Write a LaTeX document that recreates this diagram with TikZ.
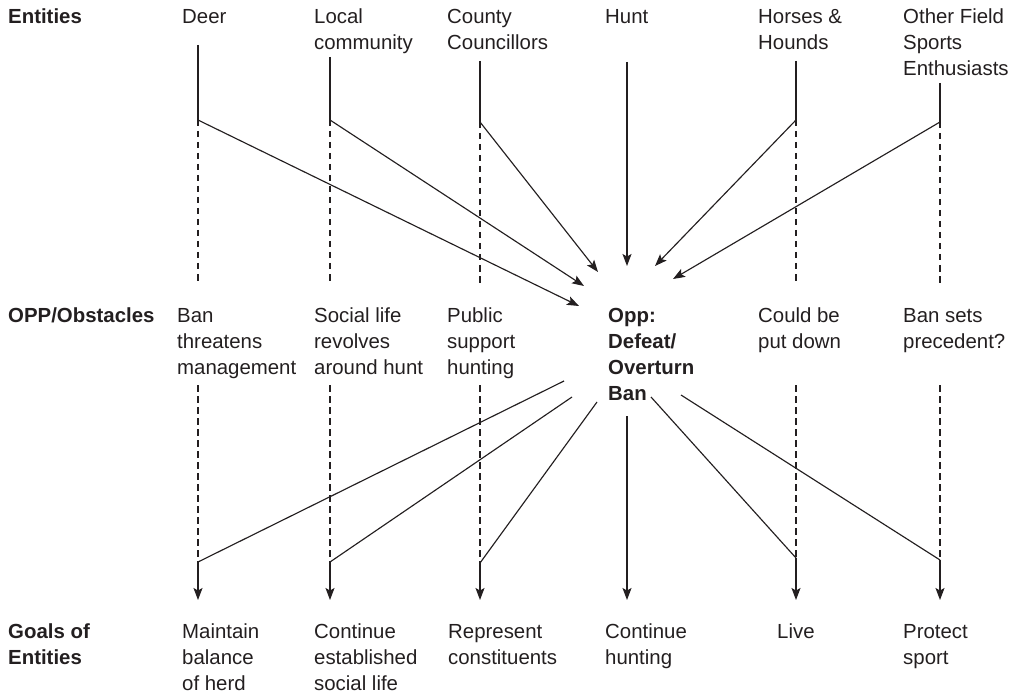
\documentclass[tikz,border=0pt]{standalone}
\usepackage{fontspec}
\setmainfont{Liberation Sans}
\usetikzlibrary{arrows.meta}
\definecolor{ink}{HTML}{231F20}
% stacked lines whose reference point is the first baseline
\newcommand\lns[1]{\begin{tabular}[t]{@{}l@{}}#1\end{tabular}}
\tikzset{
  lbl/.style={anchor=base west, inner sep=0pt, text=ink,
    font=\fontsize{20.4}{26}\selectfont},
  head/.style={lbl, font=\fontsize{20.4}{26}\selectfont\bfseries},
  link/.style={draw=ink, line width=1.15pt},
  flow/.style={link, -{Stealth[length=12pt,width=9pt,inset=2.5pt]}},
  guide/.style={draw=ink, line width=1.1pt, dash pattern=on 6.5pt off 4.5pt}
}
\begin{document}
\begin{tikzpicture}[x=1pt,y=-1pt]
\useasboundingbox (0,0) rectangle (1015,695);

% row headings
\node[head] (hEnt) at (8,24) {\lns{Entities}};
\node[head] (hObs) at (8,322) {\lns{OPP/Obstacles}};
\node[head] (hGoal) at (8,638) {\lns{Goals of\\Entities}};

% entities
\node[lbl] (e1) at (182,24) {\lns{Deer}};
\node[lbl] (e2) at (314,24) {\lns{Local\\community}};
\node[lbl] (e3) at (447,24) {\lns{County\\Councillors}};
\node[lbl] (e4) at (605,24) {\lns{Hunt}};
\node[lbl] (e5) at (758,24) {\lns{Horses \&\\Hounds}};
\node[lbl] (e6) at (903,24) {\lns{Other Field\\Sports\\Enthusiasts}};

% obstacles and the central opportunity
\node[lbl] (o1) at (177,322) {\lns{Ban\\threatens\\management}};
\node[lbl] (o2) at (314,322) {\lns{Social life\\revolves\\around hunt}};
\node[lbl] (o3) at (447,322) {\lns{Public\\support\\hunting}};
\node[head] (opp) at (608,322) {\lns{Opp:\\Defeat/\\Overturn\\Ban}};
\node[lbl] (o5) at (758,322) {\lns{Could be\\put down}};
\node[lbl] (o6) at (903,322) {\lns{Ban sets\\precedent?}};

% goals
\node[lbl] (g1) at (182,638) {\lns{Maintain\\balance\\of herd}};
\node[lbl] (g2) at (314,638) {\lns{Continue\\established\\social life}};
\node[lbl] (g3) at (448,638) {\lns{Represent\\constituents}};
\node[lbl] (g4) at (605,638) {\lns{Continue\\hunting}};
\node[lbl] (g5) at (777,638) {\lns{Live}};
\node[lbl] (g6) at (903,638) {\lns{Protect\\sport}};

% column stems: top, upper branch point, end of upper guide
\coordinate (t1) at (198,45);  \coordinate (u1) at (198,120); \coordinate (ud1) at (198,284);
\coordinate (t2) at (330,57);  \coordinate (u2) at (330,120); \coordinate (ud2) at (330,284);
\coordinate (t3) at (480,61);  \coordinate (u3) at (480,122); \coordinate (ud3) at (480,284);
\coordinate (t4) at (627,62);
\coordinate (t5) at (796,61);  \coordinate (u5) at (796,120); \coordinate (ud5) at (796,284);
\coordinate (t6) at (940,83);  \coordinate (u6) at (940,122); \coordinate (ud6) at (940,284);

% arrow ends around the opportunity
\coordinate (in1) at (579,306);
\coordinate (in2) at (584,286);
\coordinate (in3) at (598,272);
\coordinate (in4) at (627,266);
\coordinate (in5) at (655,266);
\coordinate (in6) at (673,279);

% lines leaving the opportunity
\coordinate (out1) at (564,381);
\coordinate (out2) at (572,397);
\coordinate (out3) at (597,402);
\coordinate (out4) at (627,416);
\coordinate (out5) at (651,397);
\coordinate (out6) at (681,395);

% lower guides: start, lower branch point, arrow tip
\coordinate (ld1) at (198,385); \coordinate (l1) at (198,562); \coordinate (a1) at (198,600);
\coordinate (ld2) at (330,385); \coordinate (l2) at (330,562); \coordinate (a2) at (330,600);
\coordinate (ld3) at (480,385); \coordinate (l3) at (480,563); \coordinate (a3) at (480,600);
\coordinate (a4) at (627,600);
\coordinate (ld5) at (796,385); \coordinate (l5) at (796,558); \coordinate (a5) at (796,600);
\coordinate (ld6) at (940,385); \coordinate (l6) at (940,560); \coordinate (a6) at (940,600);

% upper half: entities feed the opportunity
\foreach \i in {1,2,3,5,6} {
  \draw[link] (t\i) -- (u\i);
  \draw[guide] (u\i) -- (ud\i);
  \draw[flow] (u\i) -- (in\i);
}
\draw[flow] (t4) -- (in4);

% lower half: the opportunity serves each goal
\foreach \i in {1,2,3,5,6} {
  \draw[guide] (ld\i) -- (l\i);
  \draw[link] (out\i) -- (l\i);
  \draw[flow] (l\i) -- (a\i);
}
\draw[flow] (out4) -- (a4);
\end{tikzpicture}
\end{document}
